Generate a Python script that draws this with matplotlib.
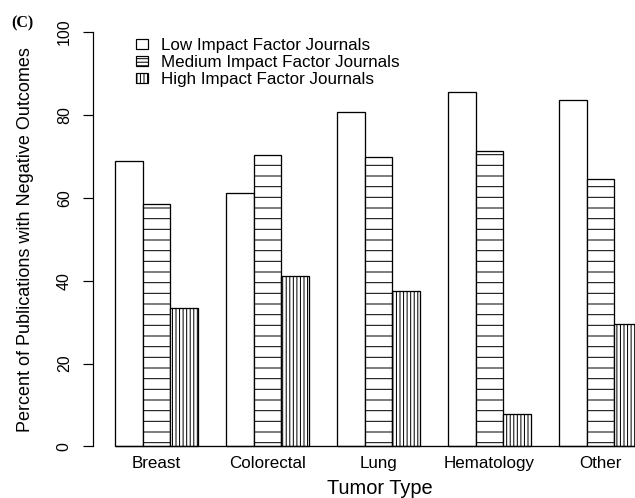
import matplotlib.pyplot as plt
import numpy as np
from matplotlib.patches import Patch

categories = ["Breast", "Colorectal", "Lung", "Hematology", "Other"]
low_if = [68.9, 61.1, 80.8, 85.6, 83.7]
medium_if = [58.6, 70.4, 69.9, 71.3, 64.6]
high_if = [33.4, 41.1, 37.5, 7.8, 29.6]
series_labels = [
    "Low Impact Factor Journals",
    "Medium Impact Factor Journals",
    "High Impact Factor Journals",
]
y_ticks = [0, 20, 40, 60, 80, 100]

DPI = 64
PT = 72 / DPI  # points per pixel at this dpi

plt.rcParams["font.family"] = ["Liberation Sans", "DejaVu Sans"]
plt.rcParams["hatch.linewidth"] = 1.0 * PT
plt.rcParams["hatch.color"] = "black"

fig = plt.figure(figsize=(635 / DPI, 498 / DPI), dpi=DPI)
ax = fig.add_axes([92.8 / 635, 35 / 498, (635 - 92.8) / 635, 447.6 / 498])

# R-style beside barplot: 3 bars per group, one bar-width gap
groups = np.arange(len(categories)) * 4
bar_hatches = ["", "-", "|||"]
for i, (values, hatch) in enumerate(zip([low_if, medium_if, high_if], bar_hatches)):
    ax.bar(groups + 1 + i, values, width=1, align="edge", color="white",
           edgecolor="black", linewidth=1.3 * PT, hatch=hatch, zorder=2)

ax.set_xlim(0.2, 19.74)
ax.set_ylim(-4, 104)
ax.hlines(0, groups[0] + 1, ax.get_xlim()[1], color="black", linewidth=1.3 * PT, zorder=3)

for side in ["top", "right", "bottom"]:
    ax.spines[side].set_visible(False)
ax.spines["left"].set_bounds(0, 100)
ax.spines["left"].set_linewidth(1.2 * PT)

ax.set_yticks(y_ticks)
ax.tick_params(axis="y", length=10 * PT, width=1.2 * PT, pad=11 * PT,
               labelsize=16 * PT, labelrotation=90)
for lab in ax.get_yticklabels():
    lab.set_va("center")

ax.set_xticks(groups + 2.5, categories)
ax.tick_params(axis="x", length=0, pad=-7 * PT, labelsize=17 * PT)

ax.set_ylabel("Percent of Publications with Negative Outcomes", fontsize=18 * PT)
ax.yaxis.label.set_va("center")
ax.yaxis.set_label_coords(-0.125, 0.5)
ax.set_xlabel("Tumor Type", fontsize=20 * PT)
ax.xaxis.set_label_coords(0.53, -0.036)

legend_hatches = ["", "---", "|||"]
handles = [Patch(facecolor="white", edgecolor="black", linewidth=1.2 * PT, hatch=h)
           for h in legend_hatches]
ax.legend(handles, series_labels, loc="upper left", bbox_to_anchor=(0.0797, 0.949),
          frameon=False, fontsize=17 * PT, handlelength=12 / 17, handleheight=9 / 17,
          handletextpad=0.75, borderpad=0, borderaxespad=0, labelspacing=0.1)

fig.text(11 / 635, 1 - 23 / 498, "(C)", ha="left", va="center", fontsize=16 * PT,
         fontweight="bold", family=["Liberation Serif", "DejaVu Serif"])

fig.savefig("out.png", dpi=DPI)
